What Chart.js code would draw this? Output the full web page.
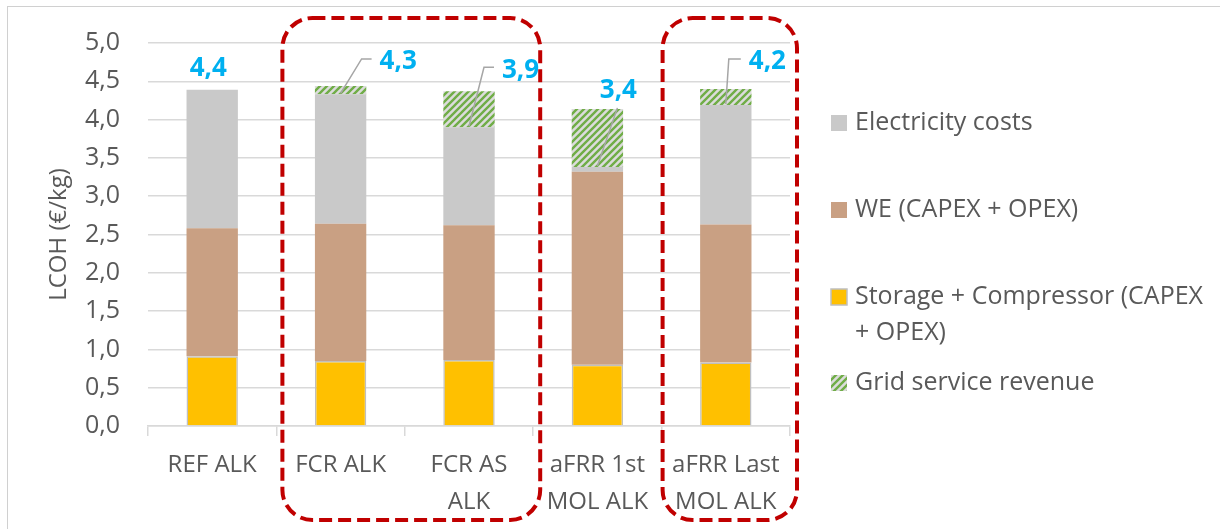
<!DOCTYPE html>
<html>
<head>
<meta charset="utf-8">
<script src="https://cdn.jsdelivr.net/npm/chart.js@4.4.1/dist/chart.umd.min.js"></script>
<style>
  html, body { margin: 0; padding: 0; background: #fff; }
  #wrap { position: relative; width: 1220px; height: 529px; overflow: hidden; }
  #frame { position: absolute; left: 7px; top: 6px; width: 1300px; height: 600px;
           border-left: 1.5px solid #d0d0d0; border-top: 1.5px solid #d0d0d0; pointer-events: none; }
  canvas { position: absolute; left: 0; top: 0; }
</style>
</head>
<body>
<div id="wrap">
  <canvas id="c" width="1220" height="529"></canvas>
  <div id="frame"></div>
</div>
<script>
// ---- data ----
const categories = [["REF ALK"], ["FCR ALK"], ["FCR AS", "ALK"], ["aFRR 1st", "MOL ALK"], ["aFRR Last", "MOL ALK"]];
const storageCompressor = [0.91, 0.85, 0.86, 0.80, 0.83];
const weCapexOpex = [1.67, 1.79, 1.76, 2.52, 1.80];
const electricityCosts = [1.81, 1.69, 1.28, 0.06, 1.56];
const gridServiceRevenue = [0.00, 0.11, 0.47, 0.76, 0.21];
const netLabels = ["4,4", "4,3", "3,9", "3,4", "4,2"];
const yTicks = [0, 0.5, 1, 1.5, 2, 2.5, 3, 3.5, 4, 4.5, 5];

// ---- styles ----
const FONT = "'Open Sans', 'Noto Sans', sans-serif";
const TXT = '#595959';
const GRIDC = '#d9d9d9';
const cv = document.getElementById('c');
const ctx = cv.getContext('2d');

function makeHatch() {
  const s = 7;
  const c = document.createElement('canvas');
  c.width = s; c.height = s;
  const g = c.getContext('2d');
  g.fillStyle = '#dcdcdc';
  g.fillRect(0, 0, s, s);
  g.strokeStyle = '#70AD47';
  g.lineWidth = 2.4;
  g.beginPath();
  g.moveTo(-1, s + 1); g.lineTo(s + 1, -1);
  g.moveTo(-s / 2 - 1, s / 2 + 1); g.lineTo(s / 2 + 1, -s / 2 - 1);
  g.moveTo(s / 2 - 1, s * 1.5 + 1); g.lineTo(s * 1.5 + 1, s / 2 - 1);
  g.stroke();
  return ctx.createPattern(c, 'repeat');
}
const hatch = makeHatch();

// label layout (pixel offsets, style only)
const labelLayout = [
  { mode: 'above', dx: -4, dy: -21 },
  { mode: 'elbow', ex: 21, ey: -27, len: 10 },
  { mode: 'elbow', ex: 15, ey: -24, len: 10 },
  { mode: 'straight', ex: 20, ey: -1 },
  { mode: 'elbow', ex: 3, ey: -30, len: 12 }
];

const labelsPlugin = {
  id: 'netLabels',
  afterDatasetsDraw(chart) {
    const c = chart.ctx;
    const ys = chart.scales.y;
    const topMeta = chart.getDatasetMeta(3);
    c.save();
    c.font = "bold 26px " + FONT;
    c.fillStyle = '#00B0F0';
    c.strokeStyle = '#A6A6A6';
    c.lineWidth = 1.5;
    topMeta.data.forEach((el, i) => {
      const net = storageCompressor[i] + weCapexOpex[i] + electricityCosts[i];
      const x0 = el.x;
      const yTop = el.y;
      const yNet = ys.getPixelForValue(net) - 1;
      const L = labelLayout[i];
      if (L.mode === 'above') {
        c.textAlign = 'center'; c.textBaseline = 'middle';
        c.fillText(netLabels[i], x0 + L.dx, yTop + L.dy);
      } else if (L.mode === 'elbow') {
        const ex = x0 + L.ex, ey = yTop + L.ey;
        c.beginPath(); c.moveTo(x0, yNet); c.lineTo(ex, ey); c.lineTo(ex + L.len, ey); c.stroke();
        c.textAlign = 'left'; c.textBaseline = 'middle';
        c.fillText(netLabels[i], ex + L.len + 8, ey + 3);
      } else {
        const ex = x0 + L.ex, ey = yTop + L.ey;
        c.beginPath(); c.moveTo(x0, yNet); c.lineTo(ex, ey); c.stroke();
        c.textAlign = 'center'; c.textBaseline = 'middle';
        c.fillText(netLabels[i], ex + 1, ey - 17);
      }
    });
    c.restore();
  }
};

// red dashed grouping boxes, anchored to category boundaries
const boxesPlugin = {
  id: 'boxes',
  afterDraw(chart) {
    const xs = chart.scales.x;
    const c = chart.ctx;
    const half = (xs.getPixelForValue(1) - xs.getPixelForValue(0)) / 2;
    const boxes = [
      { from: 1, to: 2, l: 6, r: 7 },
      { from: 4, to: 4, l: 1, r: 7 }
    ];
    c.save();
    c.strokeStyle = '#C00000';
    c.lineWidth = 4;
    c.setLineDash([13, 6]);
    boxes.forEach(b => {
      const x1 = xs.getPixelForValue(b.from) - half + b.l;
      const x2 = xs.getPixelForValue(b.to) + half + b.r;
      const y1 = 18, y2 = 520, r = 30;
      c.beginPath();
      c.roundRect(x1, y1, x2 - x1, y2 - y1, r);
      c.stroke();
    });
    c.restore();
  }
};

// legend on the right
const legendPlugin = {
  id: 'sideLegend',
  afterDraw(chart) {
    const c = chart.ctx;
    const items = [
      { fill: '#C9C9C9', border: null, lines: ['Electricity costs'], y: 123 },
      { fill: '#C9A083', border: null, lines: ['WE (CAPEX + OPEX)'], y: 210 },
      { fill: '#FFC000', border: '#BFBFBF', lines: ['Storage + Compressor (CAPEX', '+ OPEX)'], y: 297 },
      { fill: hatch, border: null, lines: ['Grid service revenue'], y: 383 }
    ];
    c.save();
    c.font = "25px " + FONT;
    c.textBaseline = 'middle';
    c.textAlign = 'left';
    items.forEach(it => {
      c.fillStyle = it.fill;
      c.fillRect(831, it.y - 8, 16, 16);
      if (it.border) { c.strokeStyle = it.border; c.lineWidth = 1.5; c.strokeRect(831, it.y - 8, 16, 16); }
      c.fillStyle = TXT;
      it.lines.forEach((t, k) => c.fillText(t, 855, it.y + k * 36));
    });
    c.restore();
  }
};

new Chart(cv, {
  type: 'bar',
  data: {
    labels: categories,
    datasets: [
      { label: 'Storage + Compressor (CAPEX + OPEX)', data: storageCompressor, backgroundColor: '#FFC000', borderColor: '#BFBFBF', borderWidth: 1.5 },
      { label: 'WE (CAPEX + OPEX)', data: weCapexOpex, backgroundColor: '#C9A083', borderWidth: 0 },
      { label: 'Electricity costs', data: electricityCosts, backgroundColor: '#C9C9C9', borderWidth: 0 },
      { label: 'Grid service revenue', data: gridServiceRevenue, backgroundColor: hatch, borderWidth: 0 }
    ]
  },
  options: {
    responsive: false,
    animation: false,
    devicePixelRatio: 1,
    layout: { padding: { top: 37, right: 430, left: 0, bottom: 0 } },
    datasets: { bar: { barPercentage: 0.4, categoryPercentage: 1.0 } },
    plugins: { legend: { display: false }, tooltip: { enabled: false } },
    scales: {
      x: {
        stacked: true,
        offset: true,
        afterFit(s) { s.height = 103; },
        grid: { offset: true, drawOnChartArea: false, drawTicks: true, tickLength: 10, color: GRIDC, lineWidth: 1.5 },
        border: { display: true, color: GRIDC, width: 1.5 },
        ticks: { color: TXT, font: { family: FONT, size: 24, lineHeight: 1.54 }, padding: 11, maxRotation: 0, autoSkip: false }
      },
      y: {
        stacked: true,
        min: 0, max: 5,
        afterFit(s) { s.width = 148; },
        afterBuildTicks(s) { s.ticks = yTicks.map(v => ({ value: v })); },
        grid: { color: GRIDC, lineWidth: 1.5, drawTicks: false },
        border: { display: false },
        ticks: {
          color: TXT, padding: 28,
          font: { family: FONT, size: 25 },
          callback: v => v.toFixed(1).replace('.', ',')
        },
        title: { display: true, text: 'LCOH (€/kg)', color: TXT, font: { family: FONT, size: 24 }, padding: { top: 45, bottom: 0 } }
      }
    }
  },
  plugins: [labelsPlugin, boxesPlugin, legendPlugin]
});
</script>
</body>
</html>
